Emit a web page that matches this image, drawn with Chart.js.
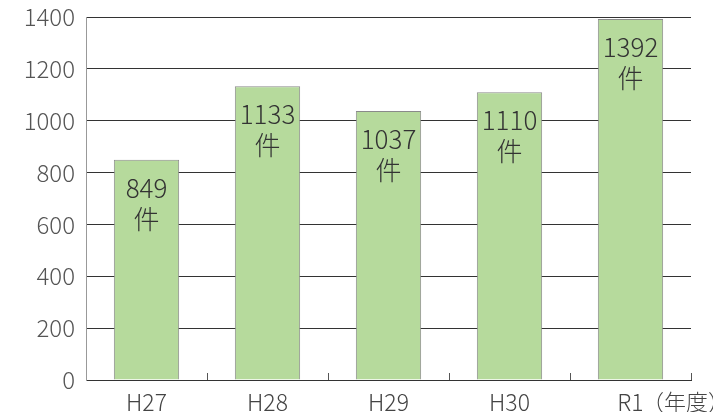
<!DOCTYPE html>
<html>
<head>
<meta charset="utf-8">
<script src="https://cdn.jsdelivr.net/npm/chart.js@4/dist/chart.umd.min.js"></script>
<style>
  html, body { margin: 0; padding: 0; background: #fff; }
  #wrap { width: 713px; height: 412px; }
</style>
</head>
<body>
<div id="wrap"><canvas id="chart"></canvas></div>
<script>
var years = ['H27', 'H28', 'H29', 'H30', 'R1'];
var counts = [849, 1133, 1037, 1110, 1392];
var yTicks = [0, 200, 400, 600, 800, 1000, 1200, 1400];
var unitLabel = '件';
var axisUnit = '（年度）';

var FONT = "'Noto Sans CJK JP', 'Noto Sans', sans-serif";

// bar value labels + boundary ticks + unit text
var extras = {
    id: 'extras',
    afterDatasetsDraw: function(chart) {
        var ctx = chart.ctx;
        var meta = chart.getDatasetMeta(0);
        var area = chart.chartArea;
        ctx.save();

        // short upward ticks at category boundaries
        ctx.strokeStyle = '#555';
        ctx.lineWidth = 1;
        var step = (area.right - area.left) / years.length;
        for (var i = 1; i <= years.length; i++) {
            var px = Math.round(area.left + step * i) + 0.5;
            ctx.beginPath();
            ctx.moveTo(px, area.bottom);
            ctx.lineTo(px, area.bottom - 7);
            ctx.stroke();
        }

        ctx.fillStyle = '#333';
        ctx.font = '300 26px ' + FONT;
        ctx.textAlign = 'center';
        ctx.textBaseline = 'middle';
        meta.data.forEach(function(bar, i) {
            ctx.fillText(String(counts[i]), bar.x, bar.y + 28);
            ctx.fillText(unitLabel, bar.x, bar.y + 59);
        });

        ctx.fillStyle = '#444';
        ctx.font = '300 22px ' + FONT;
        ctx.textAlign = 'left';
        ctx.fillText(axisUnit, 642, 402);
        ctx.restore();
    }
};

var ctx = document.getElementById('chart').getContext('2d');
new Chart(ctx, {
    type: 'bar',
    data: {
        labels: years,
        datasets: [{
            data: counts,
            backgroundColor: '#b6da9c',
            borderColor: '#8a8a8a',
            borderWidth: 1,
            barPercentage: 0.54,
            categoryPercentage: 1.0
        }]
    },
    options: {
        responsive: true,
        maintainAspectRatio: false,
        animation: false,
        layout: { padding: { top: 17, right: 22, left: 0, bottom: 0 } },
        plugins: {
            legend: { display: false },
            tooltip: { enabled: false }
        },
        scales: {
            x: {
                grid: { display: false, drawTicks: false },
                border: { display: true, color: '#333', width: 1 },
                ticks: {
                    color: '#444',
                    padding: 8,
                    font: { family: FONT, size: 23, weight: '300' }
                },
                afterFit: function(scale) {
                    scale.height = 32;
                    scale.paddingLeft = 0;
                    scale.paddingRight = 0;
                }
            },
            y: {
                min: 0,
                max: 1400,
                afterBuildTicks: function(scale) {
                    scale.ticks = yTicks.map(function(v) { return { value: v }; });
                },
                grid: { color: '#333', lineWidth: 1, drawTicks: false },
                border: { display: true, color: '#999', width: 1 },
                ticks: {
                    color: '#555',
                    padding: 11,
                    font: { family: FONT, size: 24, weight: '300' },
                    callback: function(v) { return String(v); }
                },
                afterFit: function(scale) {
                    scale.width = 86;
                    scale.paddingTop = 0;
                    scale.paddingBottom = 0;
                }
            }
        }
    },
    plugins: [extras]
});
</script>
</body>
</html>
